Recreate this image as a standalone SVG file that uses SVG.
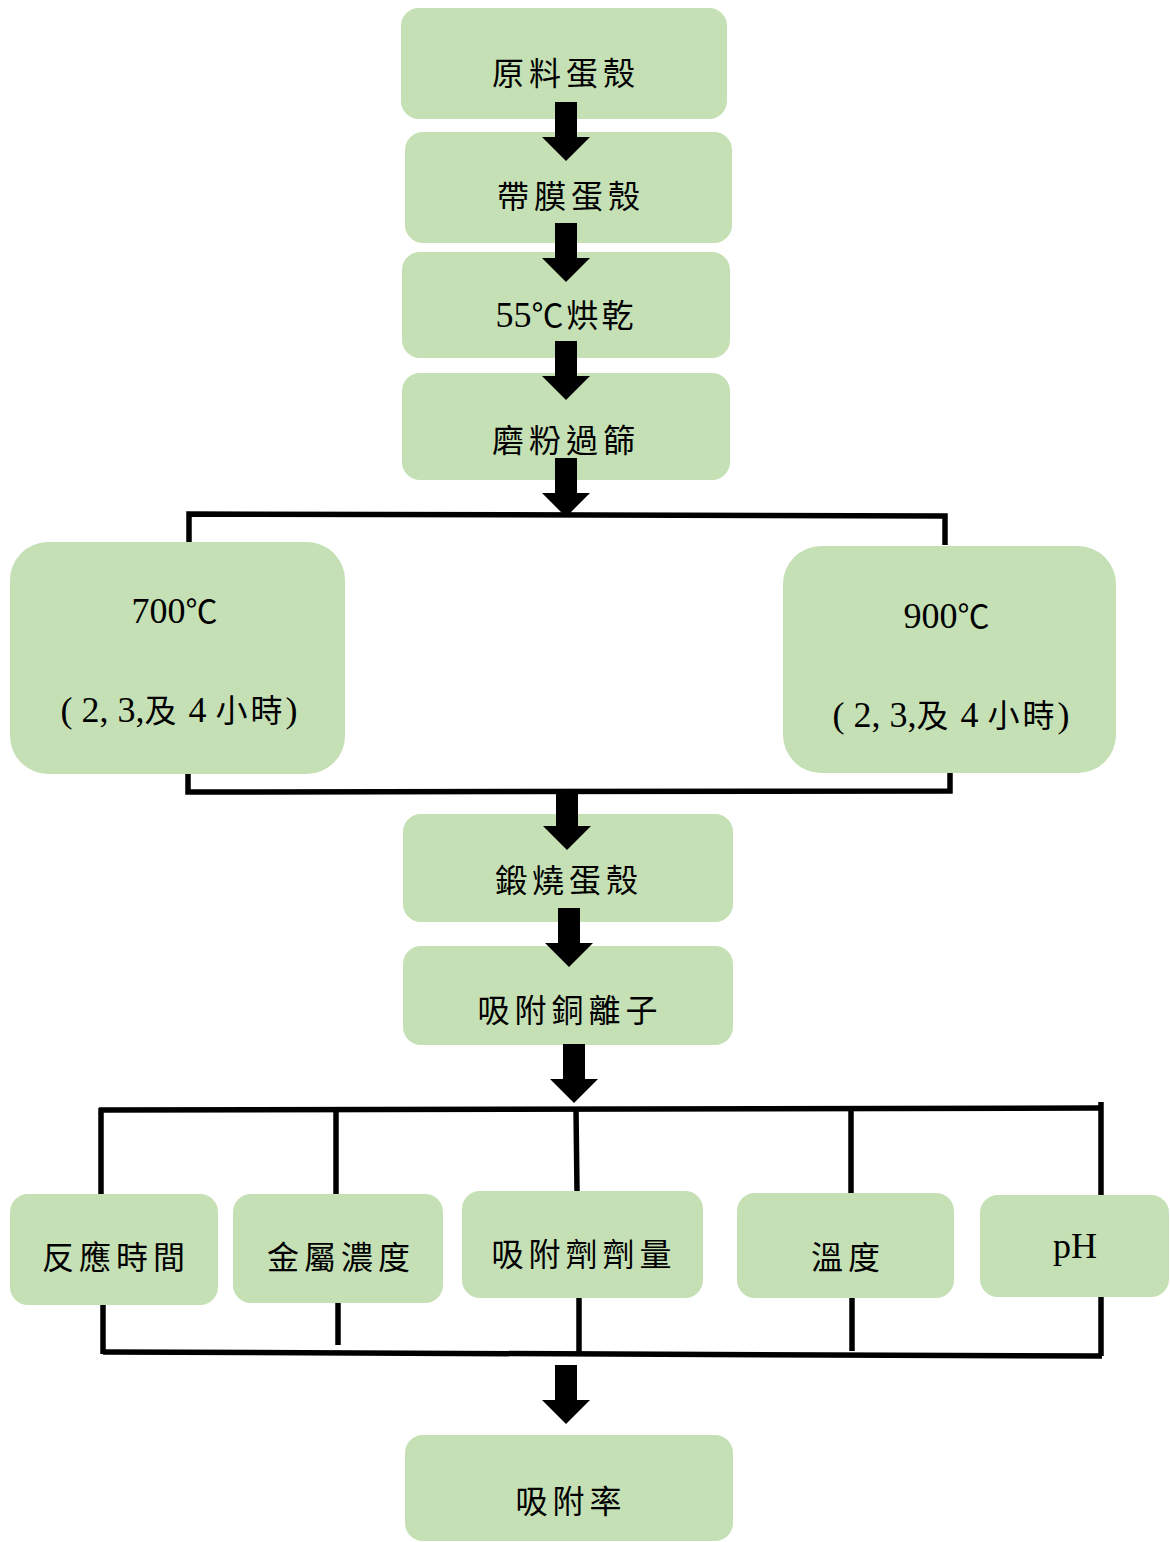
<svg xmlns="http://www.w3.org/2000/svg" xmlns:xlink="http://www.w3.org/1999/xlink" width="1170" height="1542" viewBox="0 0 1170 1542">
<style>
.box{fill:#C5E0B4;}
.cjk{font-family:"Noto Sans CJK TC","Noto Sans CJK SC",sans-serif;font-size:32px;letter-spacing:5px;fill:#000;text-anchor:middle;}
.mix{font-family:"Liberation Serif","Noto Sans CJK TC",serif;font-size:36px;fill:#000;text-anchor:middle;}
.mix .c{font-family:"Noto Sans CJK TC",sans-serif;font-size:32px;letter-spacing:3px;}
.ln{fill:none;stroke:#000;stroke-width:5.5;stroke-linejoin:miter;stroke-linecap:butt;}
</style>
<defs>
<path id="arr" d="M-11,-59 H11 V-24 H24 L0,0 L-24,-24 H-11 Z" fill="#000"/>
</defs>
<rect width="1170" height="1542" fill="#fff"/>
<g id="n1"><rect class="box" x="401" y="8" width="326" height="111" rx="18"/><text class="cjk" x="566" y="85">原料蛋殼</text></g>
<g id="n2"><rect class="box" x="405" y="132" width="327" height="111" rx="18"/><text class="cjk" x="571" y="208">帶膜蛋殼</text></g>
<g id="n3"><rect class="box" x="402" y="252" width="328" height="106" rx="18"/><text class="mix" x="566" y="327">55<tspan class="c">℃烘乾</tspan></text></g>
<g id="n4"><rect class="box" x="402" y="373" width="328" height="107" rx="18"/><text class="cjk" x="566" y="452">磨粉過篩</text></g>
<g id="n700"><rect class="box" x="10" y="542" width="335" height="232" rx="38"/><text class="mix" x="176" y="623">700<tspan class="c">℃</tspan></text><text class="mix" x="179" y="722">( 2, 3,<tspan class="c">及</tspan> 4 <tspan class="c">小時</tspan>)</text></g>
<g id="n900"><rect class="box" x="783" y="546" width="333" height="227" rx="38"/><text class="mix" x="948" y="628">900<tspan class="c">℃</tspan></text><text class="mix" x="951" y="727">( 2, 3,<tspan class="c">及</tspan> 4 <tspan class="c">小時</tspan>)</text></g>
<g id="n5"><rect class="box" x="403" y="814" width="330" height="108" rx="18"/><text class="cjk" x="569" y="892">鍛燒蛋殼</text></g>
<g id="n6"><rect class="box" x="403" y="946" width="330" height="99" rx="18"/><text class="cjk" x="570" y="1022">吸附銅離子</text></g>
<g id="n7"><rect class="box" x="10" y="1194" width="208" height="111" rx="18"/><text class="cjk" x="116" y="1269">反應時間</text></g>
<g id="n8"><rect class="box" x="233" y="1194" width="210" height="109" rx="18"/><text class="cjk" x="341" y="1269">金屬濃度</text></g>
<g id="n9"><rect class="box" x="462" y="1191" width="241" height="107" rx="18"/><text class="cjk" x="584" y="1266">吸附劑劑量</text></g>
<g id="n10"><rect class="box" x="737" y="1193" width="217" height="105" rx="18"/><text class="cjk" x="848" y="1269">溫度</text></g>
<g id="n11"><rect class="box" x="980" y="1195" width="189" height="102" rx="18"/><text class="mix" x="1075" y="1258" font-size="35">pH</text></g>
<g id="n12"><rect class="box" x="405" y="1435" width="328" height="106" rx="18"/><text class="cjk" x="571" y="1513">吸附率</text></g>
<g id="connectors">
<use xlink:href="#arr" x="566" y="161"/>
<use xlink:href="#arr" x="566" y="282"/>
<use xlink:href="#arr" x="566" y="400"/>
<use xlink:href="#arr" x="566" y="517"/>
<polyline class="ln" points="189,542 189,514 945,516 945,545"/>
<polyline class="ln" points="188,774 188,792 950,791 950,773"/>
<use xlink:href="#arr" x="567" y="850"/>
<use xlink:href="#arr" x="569" y="967"/>
<use xlink:href="#arr" x="574" y="1103"/>
<line class="ln" x1="99" y1="1110" x2="1101" y2="1108"/>
<line class="ln" x1="101" y1="1108" x2="101" y2="1194"/>
<line class="ln" x1="336" y1="1110" x2="336" y2="1194"/>
<line class="ln" x1="576" y1="1109" x2="577" y2="1191"/>
<line class="ln" x1="851" y1="1109" x2="851" y2="1193"/>
<line class="ln" x1="1101" y1="1102" x2="1101" y2="1195"/>
<line class="ln" x1="103" y1="1352" x2="1102" y2="1356"/>
<line class="ln" x1="103" y1="1305" x2="103" y2="1354"/>
<line class="ln" x1="338" y1="1303" x2="338" y2="1345"/>
<line class="ln" x1="579" y1="1298" x2="579" y2="1355"/>
<line class="ln" x1="852" y1="1298" x2="852" y2="1351"/>
<line class="ln" x1="1101" y1="1297" x2="1101" y2="1356"/>
<use xlink:href="#arr" x="566" y="1424"/>
</g>
</svg>
